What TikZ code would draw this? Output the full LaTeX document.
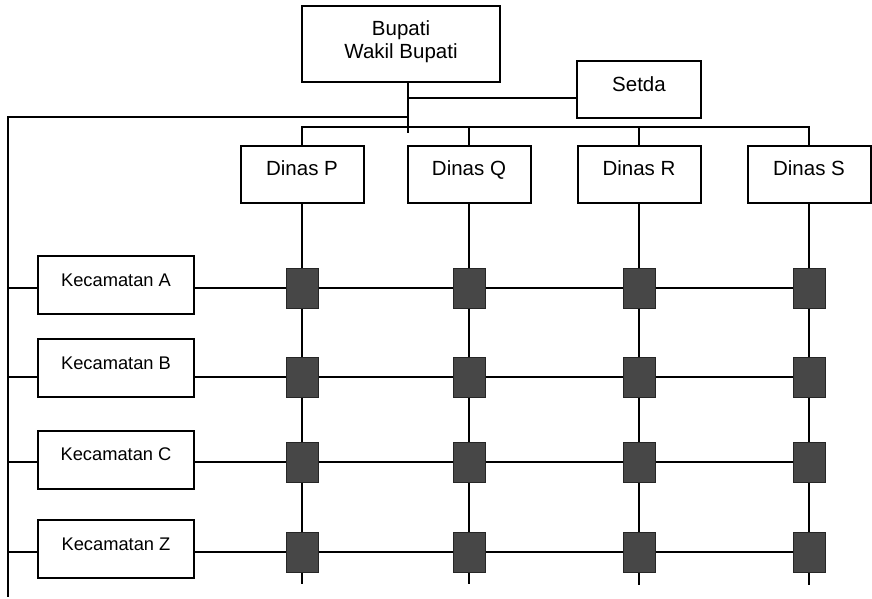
\documentclass[tikz,border=0pt]{standalone}
\usepackage{fontspec}
\setmainfont{Liberation Sans}
\usepackage{tikz}
\usetikzlibrary{positioning, calc}

\begin{document}
\begin{tikzpicture}[
        x=1pt, y=-1pt,
        line width=2pt,
        office/.style={
            rectangle,
            draw,
            inner ysep=0pt,
            font=\fontsize{20.5}{23}\selectfont,
            align=center
        },
        dinas/.style={
            office,
            minimum width=123pt,
            text height=29pt,
            text depth=28pt
        },
        kecamatan/.style={
            office,
            minimum width=156pt,
            text height=30pt,
            text depth=28pt,
            font=\fontsize{18.3}{21}\selectfont
        },
        link/.style={
            rectangle,
            draw=black!85,
            fill=black!72,
            line width=1pt,
            minimum width=32pt,
            minimum height=40pt,
            inner sep=0pt
        }
    ]
        \useasboundingbox (0,0) rectangle (872,598);

        % Pimpinan
        \node[office, minimum width=198pt, text height=52pt, text depth=24pt] (bupati) at (401,44) {Bupati\\Wakil Bupati};
        \node[office, minimum width=124pt, text height=30pt, text depth=27pt] (setda) at (639,89.5) {Setda};

        % Dinas
        \node[dinas] (dinasP) at (302,174.5) {Dinas P};
        \node[dinas] (dinasQ) at (469,174.5) {Dinas Q};
        \node[dinas] (dinasR) at (639,174.5) {Dinas R};
        \node[dinas] (dinasS) at (809,174.5) {Dinas S};

        % Kecamatan
        \node[kecamatan] (kecA) at (116,285) {Kecamatan A};
        \node[kecamatan] (kecB) at (116,368) {Kecamatan B};
        \node[kecamatan] (kecC) at (116,459.5) {Kecamatan C};
        \node[kecamatan] (kecZ) at (116,549) {Kecamatan Z};

        % Simpul koordinasi
        \node[link] (sqA1) at (302,288) {};
        \node[link] (sqA2) at (469,288) {};
        \node[link] (sqA3) at (639,288) {};
        \node[link] (sqA4) at (809,288) {};
        \node[link] (sqB1) at (302,377) {};
        \node[link] (sqB2) at (469,377) {};
        \node[link] (sqB3) at (639,377) {};
        \node[link] (sqB4) at (809,377) {};
        \node[link] (sqC1) at (302,462) {};
        \node[link] (sqC2) at (469,462) {};
        \node[link] (sqC3) at (639,462) {};
        \node[link] (sqC4) at (809,462) {};
        \node[link] (sqZ1) at (302,552) {};
        \node[link] (sqZ2) at (469,552) {};
        \node[link] (sqZ3) at (639,552) {};
        \node[link] (sqZ4) at (809,552) {};

        % Ujung garis
        \coordinate (tap) at (408,133);
        \coordinate (toSetda) at (408,98);
        \coordinate (toLeft) at (408,117);
        \coordinate (bus) at (408,127);
        \coordinate (leftEnd) at (8,597);
        \coordinate (endP) at (302,584);
        \coordinate (endQ) at (469,584);
        \coordinate (endR) at (639,585);
        \coordinate (endS) at (809,585);

        % Garis komando
        \draw (bupati.south -| tap) -- (tap);
        \draw (toSetda) -- (toSetda -| setda.west);
        \draw (toLeft) -| (leftEnd);
        \draw (dinasP.north) |- (bus) -| (dinasS.north);
        \draw (dinasQ.north) -- (dinasQ.north |- bus);
        \draw (dinasR.north) -- (dinasR.north |- bus);

        % Garis dinas
        \draw (dinasP) -- (sqA1) -- (sqB1) -- (sqC1) -- (sqZ1) -- (endP);
        \draw (dinasQ) -- (sqA2) -- (sqB2) -- (sqC2) -- (sqZ2) -- (endQ);
        \draw (dinasR) -- (sqA3) -- (sqB3) -- (sqC3) -- (sqZ3) -- (endR);
        \draw (dinasS) -- (sqA4) -- (sqB4) -- (sqC4) -- (sqZ4) -- (endS);

        % Garis kecamatan
        \draw (leftEnd |- sqA1) -- (kecA.west |- sqA1);
        \draw (leftEnd |- sqB1) -- (kecB.west |- sqB1);
        \draw (leftEnd |- sqC1) -- (kecC.west |- sqC1);
        \draw (leftEnd |- sqZ1) -- (kecZ.west |- sqZ1);
        \draw (kecA.east |- sqA1) -- (sqA1) -- (sqA2) -- (sqA3) -- (sqA4);
        \draw (kecB.east |- sqB1) -- (sqB1) -- (sqB2) -- (sqB3) -- (sqB4);
        \draw (kecC.east |- sqC1) -- (sqC1) -- (sqC2) -- (sqC3) -- (sqC4);
        \draw (kecZ.east |- sqZ1) -- (sqZ1) -- (sqZ2) -- (sqZ3) -- (sqZ4);

    \end{tikzpicture}
\end{document}
